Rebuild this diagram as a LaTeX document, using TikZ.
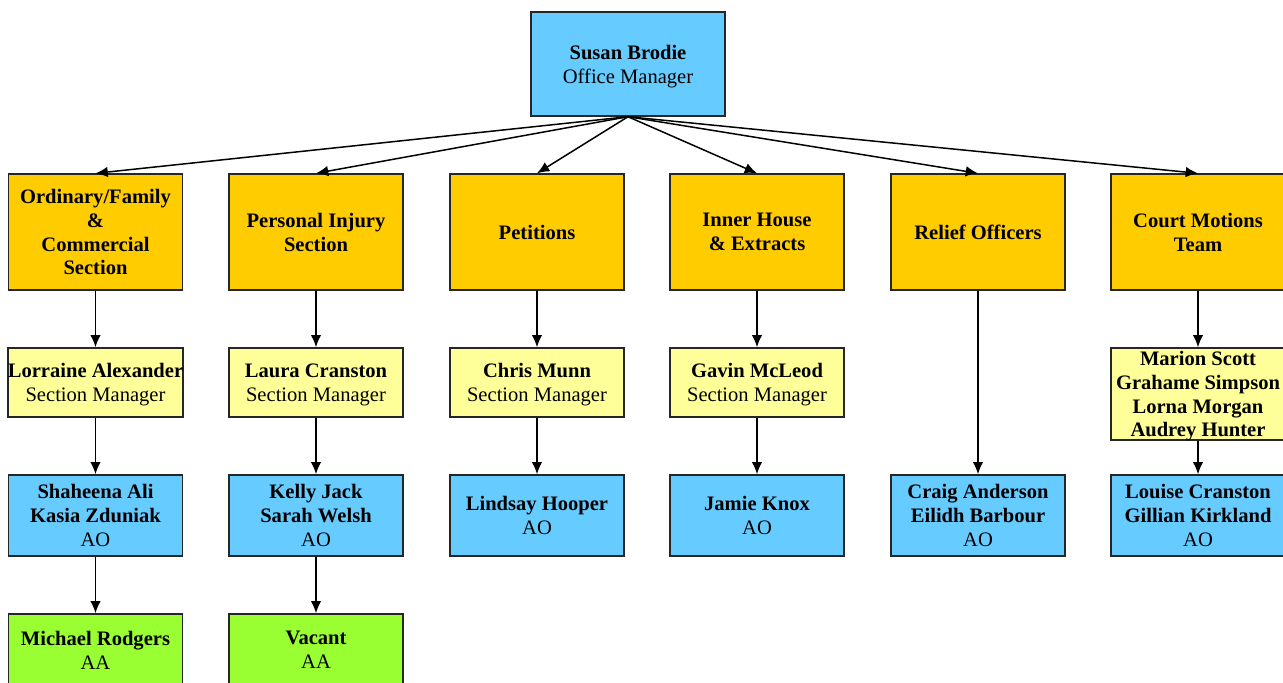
\documentclass[tikz,border=0pt]{standalone}
\usepackage{fontspec}
\setmainfont{Liberation Serif}
\usetikzlibrary{arrows.meta}

\definecolor{mgrblue}{HTML}{66CCFF}
\definecolor{secorange}{HTML}{FFCC00}
\definecolor{smyellow}{HTML}{FFFF99}
\definecolor{aagreen}{HTML}{99FF33}

\begin{document}
\begin{tikzpicture}[
          >={Latex[length=7pt,width=6pt]},
          link/.style={->, line width=0.85pt},
          box/.style={rectangle, draw=black!85, line width=0.8pt, inner sep=0pt,
            align=center, font=\fontsize{11.7}{13.6}\selectfont, minimum width=3.48cm,
            text depth=0pt},
          bluebox/.style={box, fill=mgrblue, minimum height=1.62cm},
          sectionbox/.style={box, fill=secorange, minimum height=2.32cm},
          yellowbox/.style={box, fill=smyellow, minimum height=1.38cm},
          greenbox/.style={box, fill=aagreen, minimum height=1.44cm}]

        \clip (0,0) rectangle (25.66,-13.64);
        \useasboundingbox (0,0) rectangle (25.66,-13.64);

        \node[bluebox, minimum width=3.88cm, minimum height=2.08cm] (om) at (12.56,-1.28)
          {\textbf{Susan Brodie}\\Office Manager};

        \node[sectionbox] (sec1) at (1.91,-4.64)  {\textbf{Ordinary/Family}\\\textbf{\&}\\\textbf{Commercial}\\\textbf{Section}};
        \node[sectionbox] (sec2) at (6.32,-4.64)  {\textbf{Personal Injury}\\\textbf{Section}};
        \node[sectionbox] (sec3) at (10.74,-4.64) {\textbf{Petitions}};
        \node[sectionbox] (sec4) at (15.14,-4.64) {\textbf{Inner House}\\\textbf{\& Extracts}};
        \node[sectionbox] (sec5) at (19.56,-4.64) {\textbf{Relief Officers}};
        \node[sectionbox] (sec6) at (23.96,-4.64) {\textbf{Court Motions}\\\textbf{Team}};

        \foreach \s in {1,...,6}
          \draw[link] (om.south) -- (sec\s.north);

        \node[yellowbox] (sm1) at (1.91,-7.65)  {\textbf{Lorraine Alexander}\\Section Manager};
        \node[yellowbox] (sm2) at (6.32,-7.65)  {\textbf{Laura Cranston}\\Section Manager};
        \node[yellowbox] (sm3) at (10.74,-7.65) {\textbf{Chris Munn}\\Section Manager};
        \node[yellowbox] (sm4) at (15.14,-7.65) {\textbf{Gavin McLeod}\\Section Manager};
        \node[yellowbox, minimum height=1.84cm] (sm6) at (23.96,-7.88)
          {\textbf{Marion Scott}\\\textbf{Grahame Simpson}\\\textbf{Lorna Morgan}\\\textbf{Audrey Hunter}};

        \node[bluebox] (ao1) at (1.91,-10.31)  {\textbf{Shaheena Ali}\\\textbf{Kasia Zduniak}\\AO};
        \node[bluebox] (ao2) at (6.32,-10.31)  {\textbf{Kelly Jack}\\\textbf{Sarah Welsh}\\AO};
        \node[bluebox] (ao3) at (10.74,-10.31) {\textbf{Lindsay Hooper}\\AO};
        \node[bluebox] (ao4) at (15.14,-10.31) {\textbf{Jamie Knox}\\AO};
        \node[bluebox] (ao5) at (19.56,-10.31) {\textbf{Craig Anderson}\\\textbf{Eilidh Barbour}\\AO};
        \node[bluebox] (ao6) at (23.96,-10.31) {\textbf{Louise Cranston}\\\textbf{Gillian Kirkland}\\AO};

        \node[greenbox] (aa1) at (1.91,-13.0) {\textbf{Michael Rodgers}\\AA};
        \node[greenbox] (aa2) at (6.32,-13.0) {\textbf{Vacant}\\AA};

        \foreach \s in {1,2,3,4,6}
          \draw[link] (sec\s) -- (sm\s);
        \foreach \s in {1,2,3,4,6}
          \draw[link] (sm\s) -- (ao\s);
        \draw[link] (sec5) -- (ao5);
        \draw[link] (ao1) -- (aa1);
        \draw[link] (ao2) -- (aa2);

      \end{tikzpicture}
\end{document}
